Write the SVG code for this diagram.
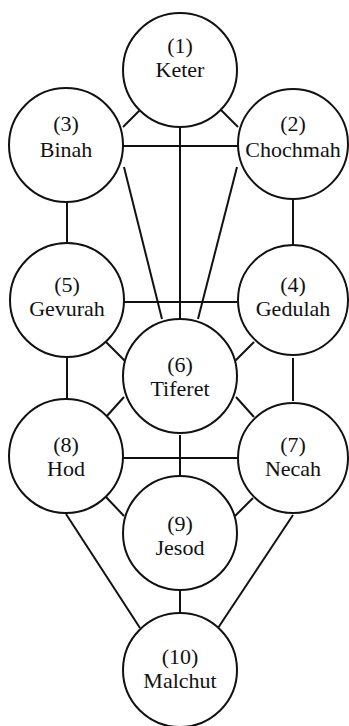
<svg xmlns="http://www.w3.org/2000/svg" width="349" height="726" viewBox="0 0 349 726">
<style>
.n circle{fill:#fff;stroke:#111;stroke-width:2}
.n text{font-family:"Liberation Serif","Times New Roman",serif;font-size:22px;fill:#111;text-anchor:middle}
#edges line{stroke:#111;stroke-width:2}
</style>
<rect width="349" height="726" fill="#fff"/>
<g id="edges">
<line x1="142" y1="108" x2="123" y2="127"/>
<line x1="218" y1="107" x2="238" y2="127"/>
<line x1="180" y1="127" x2="180" y2="318"/>
<line x1="123" y1="146" x2="238" y2="146"/>
<line x1="124" y1="167" x2="162" y2="319"/>
<line x1="237" y1="167" x2="198" y2="319"/>
<line x1="67" y1="202" x2="67" y2="243"/>
<line x1="293" y1="200" x2="293" y2="244"/>
<line x1="124" y1="302" x2="237" y2="302"/>
<line x1="106" y1="342" x2="126" y2="362"/>
<line x1="254" y1="342" x2="235" y2="361"/>
<line x1="67" y1="358" x2="67" y2="399"/>
<line x1="293" y1="358" x2="293" y2="401"/>
<line x1="124" y1="397" x2="106" y2="417"/>
<line x1="236" y1="397" x2="254" y2="417"/>
<line x1="123" y1="458" x2="237" y2="458"/>
<line x1="180" y1="435" x2="180" y2="476"/>
<line x1="106" y1="497" x2="124" y2="516"/>
<line x1="253" y1="498" x2="235" y2="516"/>
<line x1="66" y1="514" x2="140" y2="628"/>
<line x1="293" y1="515" x2="218" y2="628"/>
<line x1="180" y1="590" x2="180" y2="613"/>
</g>
<g id="keter" class="n"><circle cx="180" cy="70" r="57"/><text x="180" y="53">(1)</text><text x="180" y="77">Keter</text></g>
<g id="binah" class="n"><circle cx="66" cy="145" r="57"/><text x="66" y="131">(3)</text><text x="66" y="157">Binah</text></g>
<g id="chochmah" class="n"><circle cx="293" cy="144" r="55"/><text x="293" y="131">(2)</text><text x="293" y="157">Chochmah</text></g>
<g id="gevurah" class="n"><circle cx="67" cy="300" r="57"/><text x="67" y="292">(5)</text><text x="67" y="316">Gevurah</text></g>
<g id="gedulah" class="n"><circle cx="293" cy="300" r="55"/><text x="293" y="292">(4)</text><text x="293" y="316">Gedulah</text></g>
<g id="tiferet" class="n"><circle cx="180" cy="376" r="57"/><text x="180" y="372">(6)</text><text x="180" y="396">Tiferet</text></g>
<g id="hod" class="n"><circle cx="66" cy="456" r="57"/><text x="66" y="452">(8)</text><text x="66" y="476">Hod</text></g>
<g id="necah" class="n"><circle cx="293" cy="458" r="55"/><text x="293" y="452">(7)</text><text x="293" y="476">Necah</text></g>
<g id="jesod" class="n"><circle cx="180" cy="533" r="57"/><text x="180" y="531">(9)</text><text x="180" y="555">Jesod</text></g>
<g id="malchut" class="n"><circle cx="180" cy="670" r="57"/><text x="180" y="664">(10)</text><text x="180" y="688">Malchut</text></g>
</svg>
